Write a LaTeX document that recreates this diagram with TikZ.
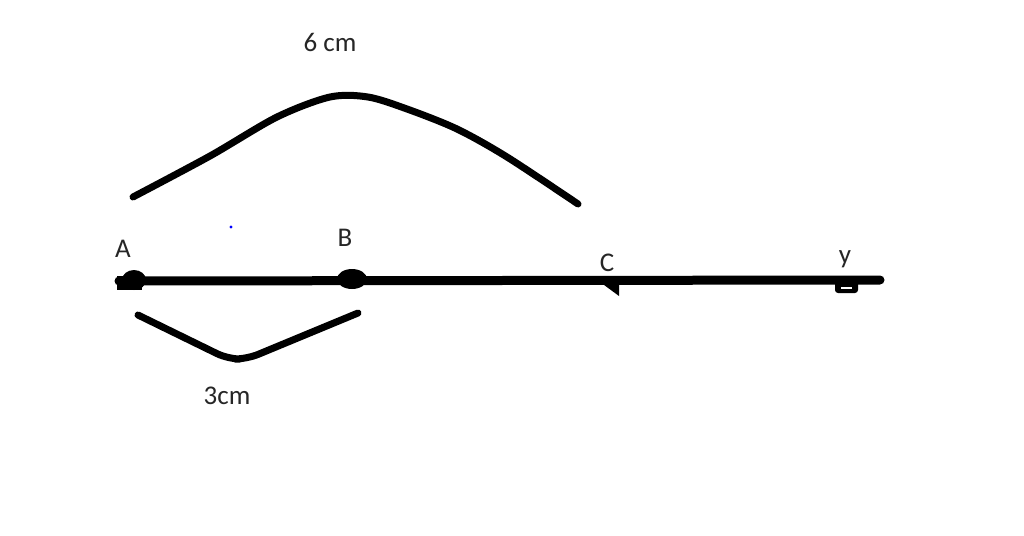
\documentclass[tikz,border=0pt]{standalone}
\usepackage{fontspec}
\setmainfont{Carlito}
\begin{document}
\begin{tikzpicture}[x=1pt,y=-1pt,
  ink/.style={line width=7pt,line cap=round,line join=round,black},
  lbl/.style={font=\fontsize{27}{30}\selectfont,inner sep=0pt,text=black!85}]
\useasboundingbox[fill=white] (0,0) rectangle (1024,535);
% main line
\coordinate (L) at (119,281);
\coordinate (R) at (880,280);
\draw[line width=9pt,line cap=round] (L) -- (R);
% blobs
\fill (117,276) rectangle (142,290);
\fill (134,280) ellipse (12pt and 10pt);
\fill (352,279) ellipse (15pt and 10pt);
\fill (600,282) -- (619,284) -- (619,296) -- cycle;
\fill[rounded corners=3pt] (835,281) rectangle (858,293);
\fill[white] (841,287) rectangle (852,289);
% labels
\node[lbl] (A) at (123,249) {A};
\node[lbl] (B) at (345,238) {B};
\node[lbl] (C) at (607,263) {C};
\node[lbl,anchor=base] (Y) at (845,263) {y};
\node[lbl] (six) at (330,42) {6 cm};
\node[lbl] (three) at (227,396) {3cm};
% arcs
\draw[ink] plot[smooth,tension=0.5] coordinates {(133,197) (210,156) (277,117) (330,97) (368,97) (407,109) (457,129) (507,157) (578,204)};
\draw[ink,rounded corners=12pt] (138,315) -- (228,359) -- (247,359) -- (358,313);
% blue dot
\fill[blue] (231,227) circle (1.6pt);
\end{tikzpicture}
\end{document}
